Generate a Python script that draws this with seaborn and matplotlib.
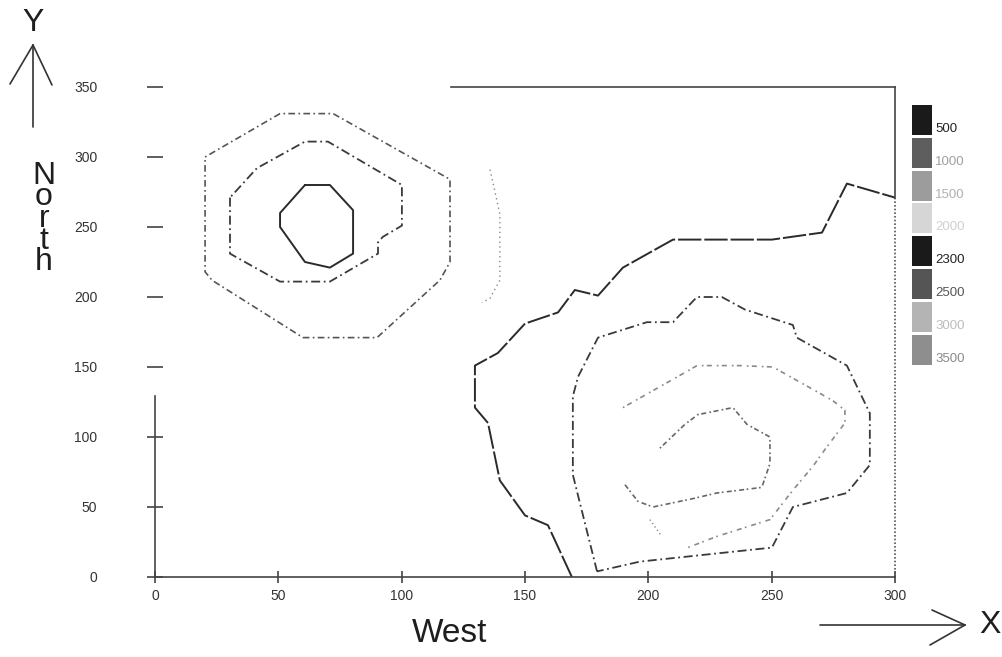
import matplotlib.pyplot as plt
import seaborn as sns
from matplotlib.lines import Line2D
from matplotlib.patches import Rectangle

sns.set_style("white")
INK = "#333333"
plt.rcParams["font.family"] = ["Liberation Sans", "DejaVu Sans"]
plt.rcParams["text.color"] = INK

W, H = 1003, 657

# contour lines (x = West, y = North)
nw_inner_x = [60.8, 70.9, 80.3, 80.3, 70.9, 60.8, 50.7, 50.7, 60.8]
nw_inner_y = [280, 280, 262, 231, 221, 225, 250, 260, 280]

nw_mid_x = [30.4, 30.4, 32.4, 50.7, 70.9, 90.4, 90.4, 92.4, 100.1, 100.1, 70.1, 60.8, 41.3, 30.4]
nw_mid_y = [271, 231, 229, 211, 211, 231, 239, 243, 251, 280, 311, 311, 292, 271]

nw_outer_x = [20.3, 50.7, 72.2, 119.6, 119.6, 115.5, 90.0, 60.0, 23.1, 20.3, 20.3]
nw_outer_y = [300, 331, 331, 284, 225, 212, 171, 171, 212, 218, 300]

nw_frag_x = [135.8, 138.6, 139.8, 139.8, 135.8, 132.5]
nw_frag_y = [291, 269, 259, 212, 199, 196]

se_outer_x = [169.0, 159.3, 150.0, 139.8, 135.0, 129.7, 129.7, 139.0, 150.0, 163.4,
              170.2, 179.6, 189.7, 197.8, 210.0, 250.1, 270.4, 280.5, 300.0]
se_outer_y = [0, 37, 44, 69, 110, 121, 151, 160, 181, 189,
              205, 201, 221, 229, 241, 241, 246, 281, 271]

se_2_x = [179.2, 169.4, 169.4, 171.5, 179.6, 199.4, 210.0, 219.7, 229.8, 239.2,
          258.6, 260.2, 280.5, 289.8, 289.8, 280.5, 258.6, 250.1, 196.6, 179.2]
se_2_y = [4, 73, 129, 143, 171, 182, 182, 200, 200, 191,
          180, 171, 151, 117, 80, 60, 50, 21, 11, 4]

se_3_x = [189.7, 214.8, 219.7, 237.1, 250.5, 274.8, 279.7, 279.7, 272.4, 266.7,
          258.6, 249.3, 227.8, 216.0]
se_3_y = [121, 146, 151, 151, 150, 126, 119, 110, 93, 79, 62, 41, 29, 21]

se_3b_x = [200.6, 205.5]
se_3b_y = [41, 29]

se_4_x = [204.7, 214.8, 220.1, 234.3, 240.0, 249.3, 249.3, 246.0, 227.8, 218.1,
          201.9, 195.8, 190.5]
se_4_y = [92, 109, 116, 121, 109, 100, 81, 64, 60, 56, 50, 54, 66]

x_ticks = [0, 50, 100, 150, 200, 250, 300]
y_ticks = [0, 50, 100, 150, 200, 250, 300, 350]

levels = ["500", "1000", "1500", "2000", "2300", "2500", "3000", "3500"]
level_fill = ["#1a1a1a", "#5e5e5e", "#9c9c9c", "#d6d6d6", "#1a1a1a", "#555555", "#b4b4b4", "#8e8e8e"]
level_text = ["#222222", "#a0a0a0", "#b0b0b0", "#d0d0d0", "#222222", "#555555", "#bdbdbd", "#8a8a8a"]

fig = plt.figure(figsize=(W / 100, H / 100), dpi=100)
ax = fig.add_axes([155 / W, 1 - 577 / H, 740 / W, 490 / H])

lines = [
    (nw_inner_x, nw_inner_y, "-", "#2a2a2a", 1.4),
    (nw_mid_x, nw_mid_y, (0, (5, 2, 1, 2)), "#3a3a3a", 1.3),
    (nw_outer_x, nw_outer_y, (0, (1, 2, 4, 2)), "#555555", 1.2),
    (nw_frag_x, nw_frag_y, (0, (1, 2.5)), "#888888", 1.0),
    (se_outer_x, se_outer_y, (0, (12, 1.5)), "#2a2a2a", 1.4),
    (se_2_x, se_2_y, (0, (5, 2, 1, 2)), "#3a3a3a", 1.3),
    (se_3_x, se_3_y, (0, (1, 2, 3, 3)), "#8a8a8a", 1.2),
    (se_3b_x, se_3b_y, (0, (1, 2)), "#8a8a8a", 1.0),
    (se_4_x, se_4_y, (0, (1, 1.5, 3, 2)), "#666666", 1.2),
]
for xs, ys, ls, c, lw in lines:
    sns.lineplot(x=xs, y=ys, sort=False, estimator=None, color=c,
                 linestyle=ls, linewidth=lw, ax=ax)

ax.set_xlim(0, 300)
ax.set_ylim(0, 350)
ax.set_xticks(x_ticks)
ax.set_yticks(y_ticks)
ax.tick_params(axis="x", bottom=True, direction="inout", length=8, width=1.1, pad=5,
               labelsize=10, colors=INK)
ax.tick_params(axis="y", left=True, direction="inout", length=11, width=1.1, pad=36,
               labelsize=10, colors=INK)
ax.set_xlabel("")
ax.set_ylabel("")

for side in ["left", "right", "top", "bottom"]:
    ax.spines[side].set_color("#444444")
    ax.spines[side].set_linewidth(1.2)
ax.spines["left"].set_bounds(0, 129)
ax.spines["top"].set_bounds(120, 300)
ax.spines["right"].set_bounds(271, 350)
ax.axvline(300, ymin=0, ymax=271 / 350, color="#555555", lw=1.2,
           linestyle=(0, (1, 1.2)), clip_on=False)


def fx(px):
    return px / W


def fy(py):
    return 1 - py / H


# axis names and compass arrows
fig.text(fx(450), fy(634), "West", fontsize=24, ha="center", va="center", color="#1e1e1e")
fig.text(fx(44), fy(219), "N\no\nr\nt\nh", fontsize=23, ha="center", va="center",
         multialignment="center", linespacing=0.64, color="#1e1e1e")
fig.text(fx(33), fy(23), "Y", fontsize=23, ha="center", va="center", color="#1e1e1e")
fig.text(fx(990), fy(625), "X", fontsize=23, ha="center", va="center", color="#1e1e1e")

arrow_segs = [
    ((33, 45), (33, 127)), ((33, 45), (10, 84)), ((33, 45), (52, 85)),
    ((820, 625), (965, 625)), ((965, 625), (932, 610)), ((965, 625), (930, 645)),
]
for (x0, y0), (x1, y1) in arrow_segs:
    fig.add_artist(Line2D([fx(x0), fx(x1)], [fy(y0), fy(y1)], color="#333333", lw=1.2))

# legend swatches
for i, (lab, fc, tc) in enumerate(zip(levels, level_fill, level_text)):
    top = 105 + i * 32.8
    fig.add_artist(Rectangle((fx(912), fy(top + 30)), 20 / W, 30 / H,
                             facecolor=fc, edgecolor="none"))
    fig.text(fx(935), fy(top + 24), lab, fontsize=9.5, ha="left", va="center", color=tc)

fig.savefig("out.png", dpi=100)
